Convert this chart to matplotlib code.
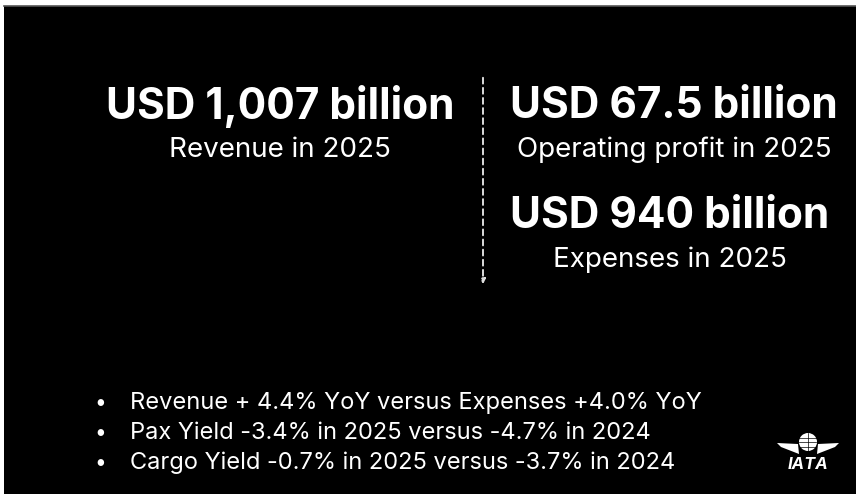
import matplotlib.pyplot as plt
from matplotlib.patches import Rectangle, Circle, Polygon, FancyArrowPatch

plt.rcParams['font.family'] = ['Inter', 'DejaVu Sans']

# headline figures (USD billion) and their captions
headline_values = ["1,007", "67.5", "940"]
headline_captions = ["Revenue in 2025", "Operating profit in 2025", "Expenses in 2025"]
headline_pos = [(280, 106), (674, 106), (670, 216)]

bullets = [
    "Revenue + 4.4% YoY versus Expenses +4.0% YoY",
    "Pax Yield -3.4% in 2025 versus -4.7% in 2024",
    "Cargo Yield -0.7% in 2025 versus -3.7% in 2024",
]
bullet_y = [403, 433, 463]

fig = plt.figure(figsize=(8.56, 4.94), dpi=100)
fig.patch.set_facecolor("white")
ax = fig.add_axes([0, 0, 1, 1])
ax.set_xlim(0, 856)
ax.set_ylim(494, 0)
ax.axis("off")

# slide background
ax.add_patch(Rectangle((4, 6), 852, 488, facecolor="black", edgecolor="none"))
ax.plot([4, 856], [6, 6], color="#555555", lw=1.2)

for (x, y), val, cap in zip(headline_pos, headline_values, headline_captions):
    ax.text(x, y, f"USD {val} billion", color="white", fontsize=30.5, fontweight="bold",
            ha="center", va="center")
    ax.text(x, y + 44, cap, color="white", fontsize=20, ha="center", va="center")

# dotted divider with arrow
ax.add_patch(FancyArrowPatch((483, 75), (483, 287), arrowstyle="-|>", mutation_scale=7,
                             color="#dddddd", lw=1.4, linestyle=(0, (3, 2.2))))

for y, txt in zip(bullet_y, bullets):
    ax.text(100, y, "•", color="white", fontsize=15, ha="center", va="center")
    ax.text(130, y, txt, color="white", fontsize=17, ha="left", va="center")

# IATA logo: globe, wings, wordmark
cx, cy = 808, 442
ax.add_patch(Circle((cx, cy), 9, facecolor="white", edgecolor="none"))
for dy in (-4.5, 0, 4.5):
    ax.plot([cx - 8.5, cx + 8.5], [cy + dy, cy + dy], color="black", lw=0.5)
ax.plot([cx, cx], [cy - 9, cy + 9], color="black", lw=0.5)
for s in (-1, 1):
    ax.add_patch(Polygon([(cx + s * 10, cy + 2), (cx + s * 31, cy + 1), (cx + s * 27, cy + 5),
                          (cx + s * 9, cy + 12)], facecolor="white", edgecolor="none"))
ax.text(cx, cy + 22, "IATA", color="white", fontsize=12, fontweight="bold", style="italic",
        ha="center", va="center")

fig.savefig("out.png", dpi=100, facecolor=fig.get_facecolor())
